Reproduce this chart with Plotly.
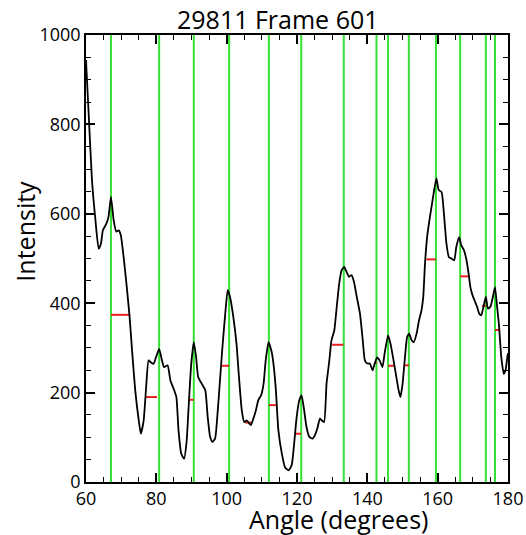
import plotly.graph_objects as go

# ---- data ----
angle = [60.0, 60.75, 61.7, 62.6, 63.6, 64.25, 64.8, 65.8, 66.4, 67.1, 67.85, 68.6, 69.3, 69.9,
         70.7, 71.6, 72.4, 73.1, 74.0, 75.0, 75.6, 76.4, 77.1, 77.8, 78.4, 79.2, 79.9, 80.8,
         81.6, 82.2, 83.2, 84.0, 84.9, 85.7, 86.3, 87.1, 87.9, 88.6, 89.2, 89.9, 90.65, 91.3,
         91.9, 92.9, 93.9, 94.6, 95.3, 95.9, 96.7, 97.4, 98.1, 98.8, 99.6, 100.3, 100.95, 101.9,
         102.8, 103.5, 104.3, 105.0, 105.7, 106.4, 106.9, 107.6, 108.3, 109.0, 109.8, 110.5,
         111.1, 111.9, 112.7, 113.3, 114.0, 114.7, 115.7, 116.6, 117.6, 118.5, 119.1, 119.9,
         120.65, 121.3, 121.9, 122.7, 123.5, 124.4, 125.1, 125.8, 126.5, 127.0, 127.7, 128.4,
         129.2, 129.8, 130.6, 131.3, 132.0, 132.7, 133.4, 134.1, 134.8, 135.5, 136.2, 137.0,
         137.9, 138.7, 139.3, 140.0, 140.7, 141.5, 142.1, 142.8, 143.5, 144.3, 144.9, 145.9,
         146.6, 147.3, 148.1, 148.8, 149.4, 150.0, 150.7, 151.3, 151.9, 152.6, 153.2, 154.0,
         154.7, 155.4, 155.9, 156.4, 157.0, 157.8, 158.4, 159.0, 159.65, 160.3, 161.1, 161.7,
         162.5, 163.2, 163.9, 164.7, 165.3, 166.1, 166.7, 167.5, 168.2, 168.8, 169.3, 169.9,
         170.5, 171.2, 171.8, 172.4, 173.1, 173.7, 174.3, 175.0, 175.7, 176.3, 176.9, 177.4,
         178.1, 178.8, 179.3, 179.8, 180.0]
intensity = [944, 825, 675, 593, 522, 533, 563, 578, 593, 638, 586, 560, 563, 552,
             503, 436, 369, 294, 205, 138, 108, 138, 212, 272, 268, 264, 279, 298,
             272, 257, 261, 227, 209, 190, 116, 63, 52, 90, 170, 262, 313, 280,
             235, 220, 206, 146, 101, 90, 97, 153, 227, 302, 377, 429, 414, 369,
             309, 235, 160, 134, 138, 131, 127, 142, 160, 183, 194, 220,
             272, 313, 294, 265, 205, 116, 63, 33, 26, 38, 78, 145,
             183, 194, 168, 123, 101, 97, 105, 120, 142, 138, 134, 220,
             272, 317, 339, 392, 444, 474, 481, 470, 459, 463, 448, 414,
             377, 317, 272, 265, 265, 250, 265, 279, 272, 257, 287, 328,
             309, 279, 242, 209, 190, 218, 279, 324, 332, 317, 313, 332,
             362, 384, 414, 489, 548, 593, 623, 653, 679, 653, 649, 608,
             533, 503, 500, 496, 526, 548, 530, 518, 496, 466, 436, 418,
             406, 392, 377, 373, 395, 414, 388, 392, 414, 436, 392, 354,
             279, 242, 250, 279, 288]

peak_angles = [67.1, 80.8, 90.65, 100.7, 112.0, 121.2, 133.3, 142.6, 145.9,
               151.8, 159.5, 166.4, 173.7, 176.3]

red_x0 = [67.1, 77.0, 89.2, 98.6, 105.3, 112.0, 119.6, 130.0, 142.0, 145.9, 150.5, 156.8, 166.4, 172.6, 176.3]
red_x1 = [72.6, 80.2, 90.6, 100.7, 107.1, 114.4, 121.2, 133.2, 142.7, 147.9, 151.8, 159.5, 169.0, 173.7, 177.8]
red_y = [374, 190, 184, 260, 133, 172, 108, 307, 267, 260, 261, 498, 460, 394, 340]

title_text = "29811 Frame 601"
x_title = "Angle (degrees)"
y_title = "Intensity"
x_ticks = [60, 80, 100, 120, 140, 160, 180]
y_ticks = [0, 200, 400, 600, 800, 1000]

FONT = "Open Sans"

fig = go.Figure()

# green vertical lines
gx, gy = [], []
for a in peak_angles:
    gx += [a, a, None]
    gy += [0, 1000, None]
fig.add_trace(go.Scatter(x=gx, y=gy, mode="lines",
                         line=dict(color="#33e033", width=2), hoverinfo="skip"))

# red segments
rx, ry = [], []
for a0, a1, v in zip(red_x0, red_x1, red_y):
    rx += [a0, a1, None]
    ry += [v, v, None]
fig.add_trace(go.Scatter(x=rx, y=ry, mode="lines",
                         line=dict(color="#e82020", width=2), hoverinfo="skip"))

# intensity curve
fig.add_trace(go.Scatter(x=angle, y=intensity, mode="lines",
                         line=dict(color="black", width=1.8, shape="spline", smoothing=0.5)))

axis_common = dict(
    showgrid=False, zeroline=False, showline=True, linecolor="black", linewidth=1.5,
    mirror="ticks", ticks="inside", ticklen=9, tickwidth=1.5, tickcolor="black",
    tickfont=dict(family=FONT, size=18, color="black"),
)

fig.update_xaxes(range=[60, 180], tickvals=x_ticks,
                 minor=dict(dtick=5, ticks="inside", ticklen=5, tickwidth=1.2,
                            tickcolor="black", showgrid=False),
                 **axis_common)
fig.update_yaxes(range=[0, 1000], tickvals=y_ticks,
                 minor=dict(dtick=50, ticks="inside", ticklen=5, tickwidth=1.2,
                            tickcolor="black", showgrid=False),
                 **axis_common)

fig.update_layout(
    width=526, height=535,
    margin=dict(l=86, r=18, t=35, b=53, autoexpand=False),
    paper_bgcolor="white", plot_bgcolor="white",
    showlegend=False,
    annotations=[
        dict(text=title_text, xref="paper", yref="paper", x=0.455, y=1.036,
             xanchor="center", yanchor="middle", showarrow=False,
             font=dict(family=FONT, size=25, color="black")),
        dict(text=x_title, xref="paper", yref="paper", x=0.599, y=-0.083,
             xanchor="center", yanchor="middle", showarrow=False,
             font=dict(family=FONT, size=25, color="black")),
        dict(text=y_title, xref="paper", yref="paper", x=-0.1436, y=0.561,
             xanchor="center", yanchor="middle", showarrow=False, textangle=-90,
             font=dict(family=FONT, size=25, color="black")),
    ],
)

fig.write_html("out.html")
